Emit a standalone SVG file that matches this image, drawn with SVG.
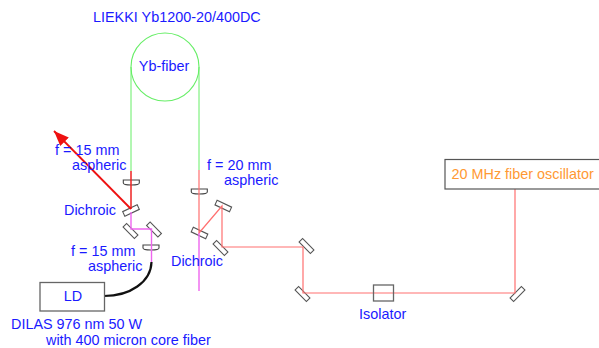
<svg xmlns="http://www.w3.org/2000/svg" width="599" height="348" viewBox="0 0 599 348">
<style>
text{font-family:"Liberation Sans",Arial,sans-serif;font-size:14.4px;fill:#1a1aff}
.o{fill:#fff;stroke:#555;stroke-width:1.1}
.g{fill:none;stroke:#66ee66;stroke-width:1}
.r{fill:none;stroke:#ff7070;stroke-width:1.2}
.m{fill:none;stroke:#ee66ee;stroke-width:1.4}
</style>
<defs>
<marker id="ah" markerUnits="userSpaceOnUse" markerWidth="16" markerHeight="12" refX="15" refY="6" orient="auto"><path d="M0 0L15 6L0 12Z" fill="#ee1111"/></marker>
<g id="mirror"><rect x="-8" y="-2.500" width="16" height="5" class="o"/></g>
<g id="lens"><path d="M-8-2.500H8V.5C8 2 6 2.500 0 2.500S-8 2-8 .5Z" fill="#fff" stroke="#444" stroke-width="1.100"/></g>
</defs>
<g id="lens-1"><use href="#lens" transform="translate(131.300 182.500)"/></g>
<g id="lens-2"><use href="#lens" transform="translate(199.300 191.500)"/></g>
<g id="lens-3"><use href="#lens" transform="translate(151 247.500)"/></g>
<g id="dichroic-1"><use href="#mirror" transform="translate(131 210.500) rotate(-25)"/></g>
<g id="dichroic-2"><use href="#mirror" transform="translate(199.500 233) rotate(25)"/></g>
<g id="mirror-1"><use href="#mirror" transform="translate(130.500 231) rotate(45)"/></g>
<g id="mirror-2"><use href="#mirror" transform="translate(154 229.500) rotate(45)"/></g>
<g id="mirror-3"><use href="#mirror" transform="translate(223.300 206) rotate(25)"/></g>
<g id="mirror-4"><use href="#mirror" transform="translate(220.500 248) rotate(45)"/></g>
<g id="mirror-5"><use href="#mirror" transform="translate(306.500 246) rotate(45)"/></g>
<g id="mirror-6"><use href="#mirror" transform="translate(302.500 294) rotate(45)"/></g>
<g id="mirror-7"><use href="#mirror" transform="translate(517.500 294) rotate(-45)"/></g>
<g id="yb-fiber"><circle cx="165" cy="67" r="34" fill="#fff" stroke="#66ee66" stroke-width="1.100"/><text x="164" y="71" text-anchor="middle">Yb-fiber</text></g>
<g id="connectors">
<path class="g" d="M131 67V171M199 67V170"/>
<path class="r" d="M199 170V233L222 206V247H303V293H515V189"/>
<path d="M131 171V209" fill="none" stroke="#ee2222" stroke-width="1.500"/>
<path d="M131 209L54 131" fill="none" stroke="#ee1111" stroke-width="1.800" marker-end="url(#ah)"/>
<path class="m" d="M131 212V229H151.500V262M199 233V291"/>
<path d="M151.500 262C151 282 130 296 104 296" fill="none" stroke="#111" stroke-width="2.200"/>
</g>
<text x="93" y="21.500">LIEKKI Yb1200-20/400DC</text>
<text x="55" y="154.500">f = 15 mm</text><text x="72" y="169.500">aspheric</text>
<text x="64" y="215">Dichroic</text>
<text x="207" y="170">f = 20 mm</text><text x="224" y="185">aspheric</text>
<text x="71" y="256">f = 15 mm</text><text x="88" y="271">aspheric</text>
<text x="171" y="266">Dichroic</text>
<text x="11" y="329">DILAS 976 nm 50 W</text>
<text x="46" y="345">with 400 micron core fiber</text>
<g id="isolator"><rect x="373.500" y="285" width="20" height="16" fill="none" stroke="#666" stroke-width="1.300"/><text x="359" y="318.500">Isolator</text></g>
<g id="ld"><rect x="40" y="282.500" width="64.500" height="28.500" fill="#fff" stroke="#666" stroke-width="1.300"/><text x="73" y="301" text-anchor="middle">LD</text></g>
<g id="oscillator"><rect x="445" y="159.500" width="160" height="29.500" fill="#fff" stroke="#555" stroke-width="1.200"/><text x="451.500" y="178.500" style="fill:#ff9933">20 MHz fiber oscillator</text></g>
</svg>
